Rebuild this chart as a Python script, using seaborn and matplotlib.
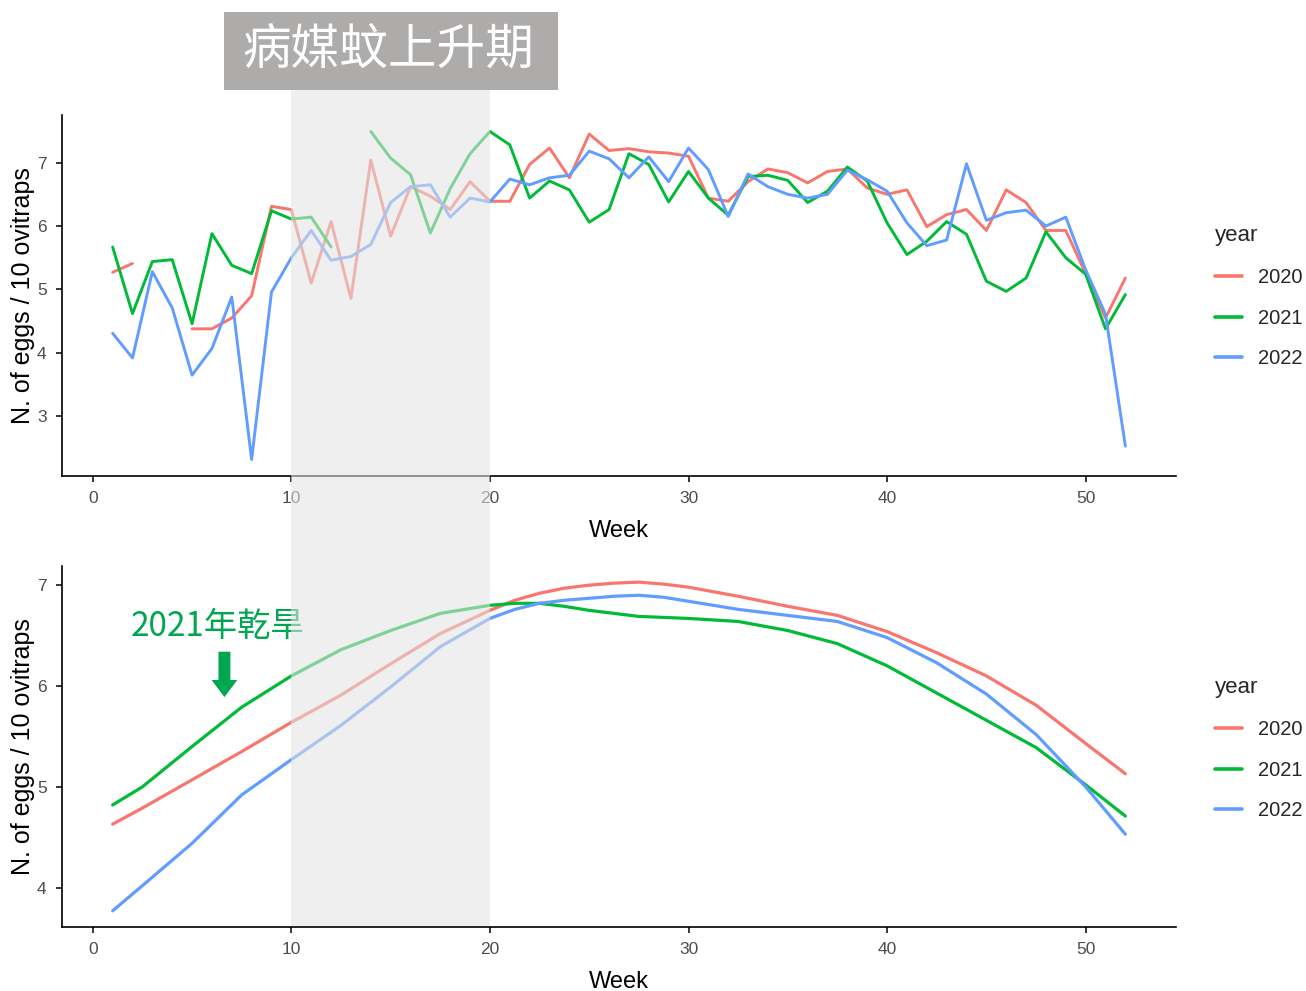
import numpy as np
import pandas as pd
import seaborn as sns
import matplotlib.pyplot as plt
from matplotlib.patches import Rectangle, FancyArrow
from matplotlib.transforms import blended_transform_factory

# ---- weekly mean eggs per 10 ovitraps ----
weeks = list(range(1, 53))
nan = np.nan
eggs_2020 = [5.27, 5.41, nan, nan, 4.38, 4.38, 4.55, 4.90, 6.31, 6.26,
             5.10, 6.07, 4.86, 7.04, 5.84, 6.62, 6.47, 6.26, 6.70, 6.39,
             6.39, 6.97, 7.23, 6.76, 7.45, 7.19, 7.22, 7.17, 7.15, 7.10,
             6.44, 6.39, 6.70, 6.90, 6.84, 6.68, 6.86, 6.90, 6.60, 6.50,
             6.57, 5.99, 6.18, 6.26, 5.93, 6.57, 6.37, 5.93, 5.93, 5.25,
             4.55, 5.18]
eggs_2021 = [5.67, 4.62, 5.44, 5.47, 4.46, 5.88, 5.38, 5.25, 6.24, 6.11,
             6.14, 5.67, nan, 7.49, 7.07, 6.81, 5.89, 6.59, 7.14, 7.49,
             7.28, 6.44, 6.71, 6.57, 6.06, 6.26, 7.14, 6.97, 6.38, 6.86,
             6.44, 6.17, 6.78, 6.80, 6.72, 6.37, 6.55, 6.93, 6.71, 6.05,
             5.55, 5.76, 6.07, 5.87, 5.13, 4.97, 5.18, 5.91, 5.50, 5.24,
             4.38, 4.92]
eggs_2022 = [4.31, 3.92, 5.28, 4.71, 3.65, 4.07, 4.88, 2.32, 4.96, 5.50,
             5.93, 5.46, 5.52, 5.71, 6.37, 6.62, 6.65, 6.14, 6.44, 6.38,
             6.74, 6.65, 6.76, 6.80, 7.18, 7.06, 6.76, 7.09, 6.70, 7.23,
             6.89, 6.15, 6.82, 6.62, 6.50, 6.44, 6.50, 6.88, 6.73, 6.55,
             6.05, 5.69, 5.78, 6.98, 6.09, 6.21, 6.25, 6.00, 6.14, 5.31,
             4.61, 2.53]

# ---- smoothed trend per year ----
trend_weeks = [1, 2.5, 5, 7.5, 10, 12.5, 15, 17.5, 20, 21.25, 22.5, 23.75, 25,
               26.25, 27.5, 28.75, 30, 32.5, 35, 37.5, 40, 42.5, 45, 47.5, 50, 52]
trend_2020 = [4.63, 4.79, 5.07, 5.35, 5.64, 5.91, 6.22, 6.52, 6.75, 6.85, 6.92,
              6.97, 7.00, 7.02, 7.03, 7.01, 6.98, 6.89, 6.79, 6.70, 6.54, 6.33,
              6.10, 5.81, 5.43, 5.13]
trend_2021 = [4.82, 5.00, 5.40, 5.79, 6.10, 6.36, 6.55, 6.72, 6.80, 6.82, 6.82,
              6.79, 6.75, 6.72, 6.69, 6.68, 6.67, 6.64, 6.55, 6.42, 6.20, 5.93,
              5.66, 5.39, 5.02, 4.71]
trend_2022 = [3.77, 4.02, 4.44, 4.92, 5.27, 5.61, 5.99, 6.39, 6.67, 6.76, 6.82,
              6.85, 6.87, 6.89, 6.90, 6.88, 6.84, 6.76, 6.70, 6.64, 6.48, 6.23,
              5.92, 5.52, 5.00, 4.53]

years = ["2020", "2021", "2022"]
palette = {"2020": "#F8766D", "2021": "#00BA38", "2022": "#619CFF"}

weekly = pd.concat([
    pd.DataFrame({"week": weeks, "value": vals, "year": yr})
    for yr, vals in zip(years, [eggs_2020, eggs_2021, eggs_2022])
], ignore_index=True)
# break lines where a week is missing
weekly["seg"] = weekly.groupby("year")["value"].transform(lambda s: s.isna().cumsum())
weekly["unit"] = weekly["year"] + "-" + weekly["seg"].astype(str)
weekly = weekly.dropna(subset=["value"])

trend = pd.concat([
    pd.DataFrame({"week": trend_weeks, "value": vals, "year": yr})
    for yr, vals in zip(years, [trend_2020, trend_2021, trend_2022])
], ignore_index=True)

sns.set_theme(style="ticks")
plt.rcParams["font.family"] = ["Liberation Sans", "Noto Sans CJK TC", "DejaVu Sans"]

W, H = 1306, 991
fig = plt.figure(figsize=(W / 100, H / 100), dpi=100)
ax1 = fig.add_axes([62 / W, 1 - 476 / H, (1176 - 62) / W, (476 - 115) / H])
ax2 = fig.add_axes([62 / W, 1 - 927 / H, (1176 - 62) / W, (927 - 566) / H])

sns.lineplot(data=weekly, x="week", y="value", hue="year", units="unit",
             estimator=None, palette=palette, linewidth=2.1, ax=ax1)
sns.lineplot(data=trend, x="week", y="value", hue="year",
             estimator=None, palette=palette, linewidth=2.3, ax=ax2)

ax1.set_ylim(2.06, 7.75)
ax1.set_yticks([3, 4, 5, 6, 7])
ax2.set_ylim(3.61, 7.19)
ax2.set_yticks([4, 5, 6, 7])

for ax, leg_top in [(ax1, 215), (ax2, 667)]:
    ax.set_xlim(-1.55, 54.55)
    ax.set_xticks([0, 10, 20, 30, 40, 50])
    for side in ["top", "right"]:
        ax.spines[side].set_visible(False)
    for side in ["left", "bottom"]:
        ax.spines[side].set_color("black")
        ax.spines[side].set_linewidth(1.2)
    ax.tick_params(axis="both", length=4, width=1.1, color="black",
                   labelcolor="#4D4D4D", labelsize=12.5, pad=7)
    ax.set_xlabel("Week", fontsize=17, color="black", labelpad=10)
    ax.set_ylabel("N. of eggs / 10 ovitraps", fontsize=18, color="black")
    ax.yaxis.set_label_coords((35 - 62) / (1176 - 62), 0.5)
    handles, labels = ax.get_legend_handles_labels()
    for h in handles:
        h.set_linewidth(2.6)
    ax.legend(handles, labels, title="year", loc="upper left",
              bbox_to_anchor=(1205 / W, 1 - leg_top / H), bbox_transform=fig.transFigure,
              frameon=False, fontsize=14.5, title_fontsize=16, handlelength=1.35,
              handletextpad=0.8, labelspacing=1.08, borderpad=0, alignment="left")

# drought note on the trend panel
ax2.text(6.28, 6.59, "2021年乾旱", color="#00A650", fontsize=24,
         family=["Noto Sans CJK TC", "DejaVu Sans"], ha="center", va="center")
ax2.add_patch(FancyArrow(6.63, 6.34, 0, -0.28, width=0.6, head_width=1.3,
                         head_length=0.17, length_includes_head=False,
                         color="#00A650", linewidth=0))

# rising period band across both panels, weeks 10-20
band_tf = blended_transform_factory(ax1.transData, fig.transFigure)
band = Rectangle((10, 1 - 926 / H), 10, (926 - 90) / H, transform=band_tf,
                 facecolor="#E3E3E3", alpha=0.57, edgecolor="none", zorder=10)
fig.add_artist(band)

# period label box
fig.add_artist(Rectangle((224 / W, 1 - 90 / H), (558 - 224) / W, (90 - 12) / H,
                         transform=fig.transFigure, facecolor="#AEABAB",
                         edgecolor="none", zorder=11))
fig.text(388 / W, 1 - 51 / H, "病媒蚊上升期", color="white", fontsize=35,
         family=["Noto Sans CJK TC", "DejaVu Sans"], ha="center", va="center", zorder=12)

fig.savefig("out.png", dpi=100)
